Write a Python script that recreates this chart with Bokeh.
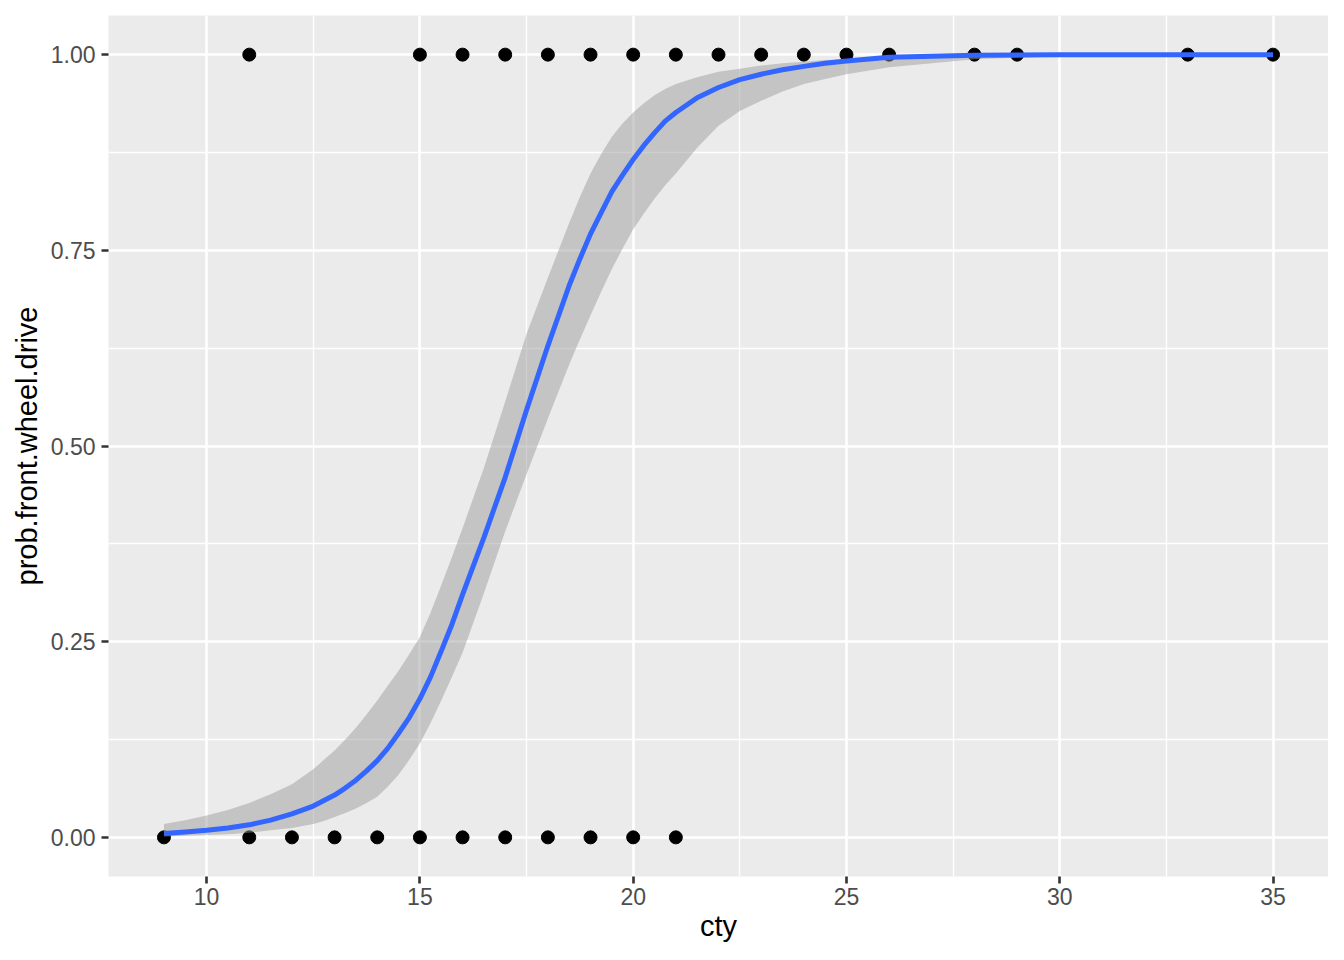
from bokeh.plotting import figure
from bokeh.models import Range1d, FixedTicker, PrintfTickFormatter
from bokeh.embed import file_html
from bokeh.resources import INLINE

# ---- data ----
# observed points (cty) for front-wheel-drive = 1 and = 0
cty_front = [11, 15, 16, 17, 18, 19, 20, 21, 22, 23, 24, 25, 26, 28, 29, 33, 35]
cty_other = [9, 11, 12, 13, 14, 15, 16, 17, 18, 19, 20, 21]
prob_front = [1.0] * len(cty_front)
prob_other = [0.0] * len(cty_other)

# fitted logistic curve and its confidence band
fit_x = [9, 9.5, 10, 10.5, 11, 11.5, 12, 12.5, 12.75, 13, 13.25, 13.5, 13.75, 14,
         14.25, 14.5, 14.75, 15, 15.25, 15.5, 15.75, 16, 16.5, 17, 17.5, 18, 18.5,
         18.75, 19, 19.25, 19.5, 19.75, 20, 20.25, 20.5, 20.75, 21, 21.5, 22, 22.5,
         23, 23.5, 24, 24.5, 25, 26, 28, 30, 35]
fit_y = [0.005, 0.007, 0.009, 0.012, 0.016, 0.022, 0.030, 0.040, 0.047, 0.054,
         0.063, 0.073, 0.085, 0.098, 0.114, 0.133, 0.153, 0.177, 0.205, 0.238,
         0.272, 0.310, 0.383, 0.460, 0.546, 0.628, 0.705, 0.739, 0.771, 0.798,
         0.825, 0.846, 0.866, 0.884, 0.900, 0.915, 0.926, 0.945, 0.958, 0.968,
         0.975, 0.9806, 0.985, 0.989, 0.992, 0.9966, 0.9992, 0.9998, 1.0]
band_upper = [0.017, 0.022, 0.028, 0.035, 0.044, 0.055, 0.068, 0.087, 0.099, 0.111,
              0.125, 0.140, 0.157, 0.175, 0.194, 0.213, 0.234, 0.256, 0.287, 0.322,
              0.358, 0.395, 0.472, 0.557, 0.643, 0.715, 0.785, 0.818, 0.848, 0.873,
              0.895, 0.912, 0.926, 0.938, 0.948, 0.956, 0.9625, 0.971, 0.978, 0.982,
              0.986, 0.989, 0.991, 0.993, 0.994, 0.996, 0.999, 1.0, 1.0]
band_lower = [0.001, 0.002, 0.003, 0.004, 0.006, 0.009, 0.012, 0.017, 0.021, 0.026,
              0.031, 0.037, 0.044, 0.052, 0.065, 0.080, 0.099, 0.120, 0.146, 0.175,
              0.205, 0.236, 0.312, 0.391, 0.464, 0.535, 0.604, 0.636, 0.667, 0.697,
              0.726, 0.752, 0.777, 0.797, 0.816, 0.833, 0.848, 0.881, 0.909, 0.928,
              0.941, 0.953, 0.9625, 0.969, 0.975, 0.984, 0.994, 0.998, 1.0]

x_ticks = [10, 15, 20, 25, 30, 35]
x_minor = [12.5, 17.5, 22.5, 27.5, 32.5]
y_ticks = [0.0, 0.25, 0.5, 0.75, 1.0]
y_minor = [0.125, 0.375, 0.625, 0.875]

FONT = "Liberation Sans"

p = figure(width=1328, height=944,
           x_range=Range1d(7.7, 36.3), y_range=Range1d(-0.05, 1.05),
           output_backend="svg", toolbar_location=None,
           min_border_left=108, min_border_right=0, min_border_top=15,
           min_border_bottom=68,
           x_axis_label="cty", y_axis_label="prob.front.wheel.drive")

p.background_fill_color = "#EBEBEB"
p.border_fill_color = "white"
p.outline_line_color = None

xt = FixedTicker(ticks=x_ticks, minor_ticks=x_minor)
yt = FixedTicker(ticks=y_ticks, minor_ticks=y_minor)
p.xaxis.ticker = xt
p.yaxis.ticker = yt
p.xgrid.ticker = xt
p.ygrid.ticker = yt
p.yaxis.formatter = PrintfTickFormatter(format="%.2f")

for g in (p.xgrid[0], p.ygrid[0]):
    g.grid_line_color = "white"
    g.grid_line_width = 2.6
    g.minor_grid_line_color = "white"
    g.minor_grid_line_width = 1.3

for ax in (p.xaxis[0], p.yaxis[0]):
    ax.axis_line_color = None
    ax.major_tick_line_color = "#333333"
    ax.major_tick_line_width = 2.6
    ax.major_tick_out = 7
    ax.major_tick_in = 0
    ax.minor_tick_line_color = None
    ax.major_label_text_font = FONT
    ax.major_label_text_font_size = "23px"
    ax.major_label_text_color = "#4D4D4D"
    ax.axis_label_text_font = FONT
    ax.axis_label_text_font_size = "29px"
    ax.axis_label_text_font_style = "normal"
    ax.axis_label_text_color = "black"

p.xaxis[0].major_label_standoff = 4
p.xaxis[0].axis_label_standoff = 2
p.yaxis[0].major_label_standoff = 6
p.yaxis[0].axis_label_standoff = 5

# points
p.scatter(cty_front, prob_front, size=13, color="black")
p.scatter(cty_other, prob_other, size=13, color="black")

# confidence band and fitted line
p.varea(x=fit_x, y1=band_lower, y2=band_upper, fill_color="#999999", fill_alpha=0.48)
p.line(fit_x, fit_y, line_color="#3366FF", line_width=5)

open("out.html", "w").write(file_html(p, INLINE))
